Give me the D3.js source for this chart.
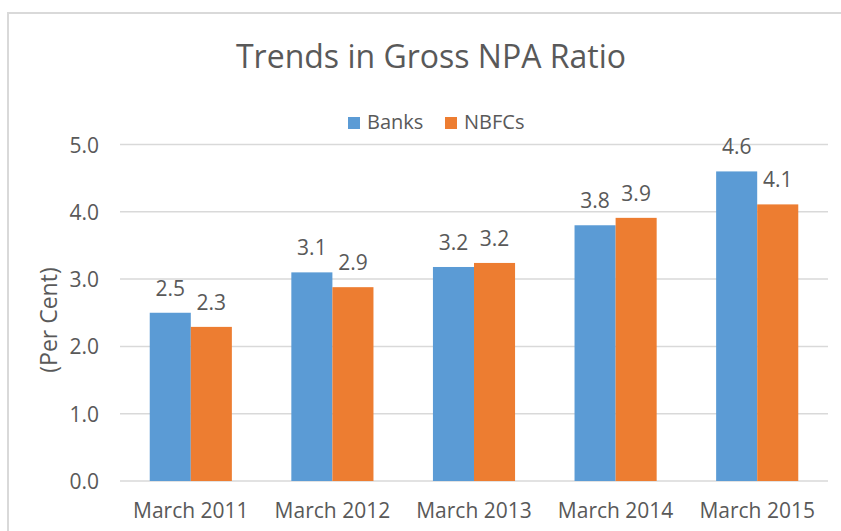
<!DOCTYPE html>
<html>
<head>
<meta charset="utf-8">
<script src="https://cdn.jsdelivr.net/npm/d3@7"></script>
<style>
  body { margin: 0; background: #fff; }
  text { font-family: "Open Sans", sans-serif; fill: #595959; }
</style>
</head>
<body>
<div id="chart"></div>
<script>
// data
const categories = ["March 2011", "March 2012", "March 2013", "March 2014", "March 2015"];
const seriesNames = ["Banks", "NBFCs"];
const banks = [2.5, 3.1, 3.18, 3.8, 4.6];
const nbfcs = [2.29, 2.88, 3.24, 3.91, 4.11];
const yTicks = [0, 1, 2, 3, 4, 5];

const colors = ["#5b9bd5", "#ed7d31"];
const width = 841, height = 531;

const svg = d3.select("#chart").append("svg")
    .attr("width", width)
    .attr("height", height);

// chart frame
svg.append("rect")
    .attr("x", 8).attr("y", 13)
    .attr("width", 845).attr("height", 530)
    .attr("fill", "none")
    .attr("stroke", "#d9d9d9")
    .attr("stroke-width", 2);

// title
svg.append("text")
    .attr("x", 431).attr("y", 68)
    .attr("text-anchor", "middle")
    .style("font-size", "32px")
    .text("Trends in Gross NPA Ratio");

// scales
const x0 = d3.scaleBand()
    .domain(categories)
    .range([120, 828])
    .paddingInner(0.42)
    .paddingOuter(0.21);

const x1 = d3.scaleBand()
    .domain(seriesNames)
    .range([0, x0.bandwidth()]);

const y = d3.scaleLinear()
    .domain([0, 5])
    .range([481, 144.5]);

// gridlines
svg.append("g")
    .selectAll("line")
    .data(yTicks)
    .join("line")
      .attr("x1", 120).attr("x2", 828)
      .attr("y1", d => y(d)).attr("y2", d => y(d))
      .attr("stroke", "#d9d9d9")
      .attr("stroke-width", 1.5);

// y axis labels
const yAxis = svg.append("g")
    .attr("transform", "translate(120,0)")
    .call(d3.axisLeft(y).tickValues(yTicks).tickFormat(d3.format(".1f")).tickSize(0).tickPadding(21));
yAxis.select(".domain").remove();
yAxis.selectAll("text")
    .style("font-size", "21px")
    .attr("dy", "0.36em");

// x axis labels
const xAxis = svg.append("g")
    .attr("transform", "translate(0,481)")
    .call(d3.axisBottom(x0).tickSize(0).tickPadding(22));
xAxis.select(".domain").remove();
xAxis.selectAll("text")
    .style("font-size", "21px")
    .attr("dy", "0.71em");

// y axis title
svg.append("text")
    .attr("transform", "translate(57,320) rotate(-90)")
    .attr("text-anchor", "middle")
    .style("font-size", "23px")
    .text("(Per Cent)");

// bars
const rows = categories.map((c, i) => ({
    category: c,
    values: [
        { key: "Banks", value: banks[i] },
        { key: "NBFCs", value: nbfcs[i] }
    ]
}));

const group = svg.append("g")
  .selectAll("g")
  .data(rows)
  .join("g")
    .attr("transform", d => `translate(${x0(d.category)},0)`);

group.selectAll("rect")
  .data(d => d.values)
  .join("rect")
    .attr("x", d => x1(d.key))
    .attr("y", d => y(d.value))
    .attr("width", x1.bandwidth())
    .attr("height", d => y(0) - y(d.value))
    .attr("fill", (d, i) => colors[i]);

// value labels
group.selectAll("text.val")
  .data(d => d.values)
  .join("text")
    .attr("class", "val")
    .attr("x", d => x1(d.key) + x1.bandwidth() / 2)
    .attr("y", d => y(d.value) - 17)
    .attr("text-anchor", "middle")
    .style("font-size", "21px")
    .text(d => d3.format(".1f")(d.value));

// legend
const legendItems = [
    { name: "Banks", x: 348 },
    { name: "NBFCs", x: 445 }
];
const legend = svg.append("g")
  .selectAll("g")
  .data(legendItems)
  .join("g")
    .attr("transform", d => `translate(${d.x},117)`);

legend.append("rect")
    .attr("width", 12).attr("height", 12)
    .attr("fill", (d, i) => colors[i]);

legend.append("text")
    .attr("x", 19).attr("y", 12)
    .style("font-size", "20px")
    .text(d => d.name);
</script>
</body>
</html>
